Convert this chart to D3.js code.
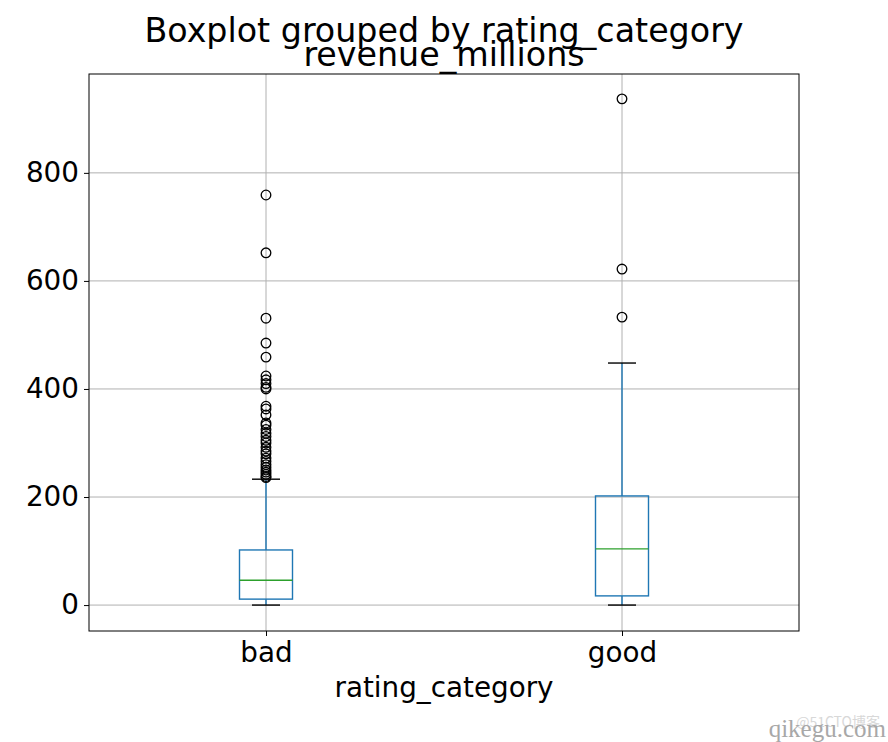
<!DOCTYPE html>
<html><head><meta charset="utf-8">
<script src="https://cdn.jsdelivr.net/npm/d3@7"></script>
<style>body{margin:0;background:#fff;} svg{display:block;font-family:"DejaVu Sans",sans-serif;}</style>
</head><body>
<svg id="c" width="888" height="742"></svg>
<script>
const categories = ["bad", "good"];
const q1 = [11, 17];
const medians = [46, 104];
const q3 = [102, 202];
const whiskerLow = [0, 0];
const whiskerHigh = [233, 448];
const outliersBad = [759, 652, 531, 485, 459, 424, 417, 410, 403, 400, 368, 363, 352, 337, 333, 325, 318, 312, 305, 300, 292, 285, 280, 272, 266, 260, 255, 250, 246, 242, 238, 236];
const outliersGood = [937, 622, 533];
const outliers = [outliersBad, outliersGood];
const yTicks = [0, 200, 400, 600, 800];

const svg = d3.select("#c");
const L = 89, R = 799, T = 74, B = 631;
const xp = d3.scalePoint().domain(categories).range([266, 622]);
const y = d3.scaleLinear().domain([-48, 983]).range([B, T]);

// grid
const g = svg.append("g");
g.selectAll("line.hg").data(yTicks).enter().append("line")
  .attr("x1", L).attr("x2", R).attr("y1", d => y(d)).attr("y2", d => y(d))
  .attr("stroke", "#b0b0b0").attr("stroke-width", 1);
g.selectAll("line.vg").data(categories).enter().append("line")
  .attr("y1", T).attr("y2", B).attr("x1", d => xp(d)).attr("x2", d => xp(d))
  .attr("stroke", "#b0b0b0").attr("stroke-width", 1);

const bw = 53, cap = 14;
categories.forEach((c, i) => {
  const cx = xp(c);
  const bg = svg.append("g");
  bg.append("line").attr("x1", cx).attr("x2", cx).attr("y1", y(q3[i])).attr("y2", y(whiskerHigh[i])).attr("stroke", "#1f77b4").attr("stroke-width", 1.4);
  bg.append("line").attr("x1", cx).attr("x2", cx).attr("y1", y(q1[i])).attr("y2", y(whiskerLow[i])).attr("stroke", "#1f77b4").attr("stroke-width", 1.4);
  bg.append("rect").attr("x", cx - bw/2).attr("width", bw).attr("y", y(q3[i])).attr("height", y(q1[i]) - y(q3[i]))
    .attr("fill", "none").attr("stroke", "#1f77b4").attr("stroke-width", 1.4);
  bg.append("line").attr("x1", cx - bw/2).attr("x2", cx + bw/2).attr("y1", y(medians[i])).attr("y2", y(medians[i])).attr("stroke", "#2ca02c").attr("stroke-width", 1.4);
  [whiskerLow[i], whiskerHigh[i]].forEach(v => {
    bg.append("line").attr("x1", cx - cap).attr("x2", cx + cap).attr("y1", y(v)).attr("y2", y(v)).attr("stroke", "#000").attr("stroke-width", 1.4);
  });
  bg.selectAll("circle").data(outliers[i]).enter().append("circle")
    .attr("cx", cx).attr("cy", d => y(d)).attr("r", 4.8)
    .attr("fill", "none").attr("stroke", "#000").attr("stroke-width", 1.3);
});

svg.append("rect").attr("x", L).attr("y", T).attr("width", R - L).attr("height", B - T)
  .attr("fill", "none").attr("stroke", "#000").attr("stroke-width", 1);

const yAxis = d3.axisLeft(y).tickValues(yTicks).tickSize(5).tickPadding(5);
const ya = svg.append("g").attr("transform", `translate(${L},0)`).call(yAxis);
ya.select(".domain").remove();
ya.selectAll("text").attr("font-size", 27.8).attr("fill", "#000").attr("font-family", "DejaVu Sans");
const xAxis = d3.axisBottom(xp).tickSize(5).tickPadding(6);
const xa = svg.append("g").attr("transform", `translate(0,${B})`).call(xAxis);
xa.select(".domain").remove();
xa.selectAll("text").attr("font-size", 27.8).attr("fill", "#000").attr("font-family", "DejaVu Sans");

svg.append("text").attr("x", 444).attr("y", 42).attr("text-anchor", "middle").attr("font-size", 33.3).text("Boxplot grouped by rating_category");
svg.append("text").attr("x", 444).attr("y", 66).attr("text-anchor", "middle").attr("font-size", 33.3).text("revenue_millions");
svg.append("text").attr("x", 444).attr("y", 697).attr("text-anchor", "middle").attr("font-size", 27.8).text("rating_category");

svg.append("text").attr("x", 880).attr("y", 727).attr("text-anchor", "end").attr("font-size", 14).attr("fill", "#d8d8d8").attr("font-family", "Noto Sans CJK SC").text("@51CTO博客");
svg.append("text").attr("x", 886).attr("y", 737).attr("text-anchor", "end").attr("font-size", 25).attr("fill", "#a8a8a8").attr("font-family", "Liberation Serif").text("qikegu.com");
</script>
</body></html>
